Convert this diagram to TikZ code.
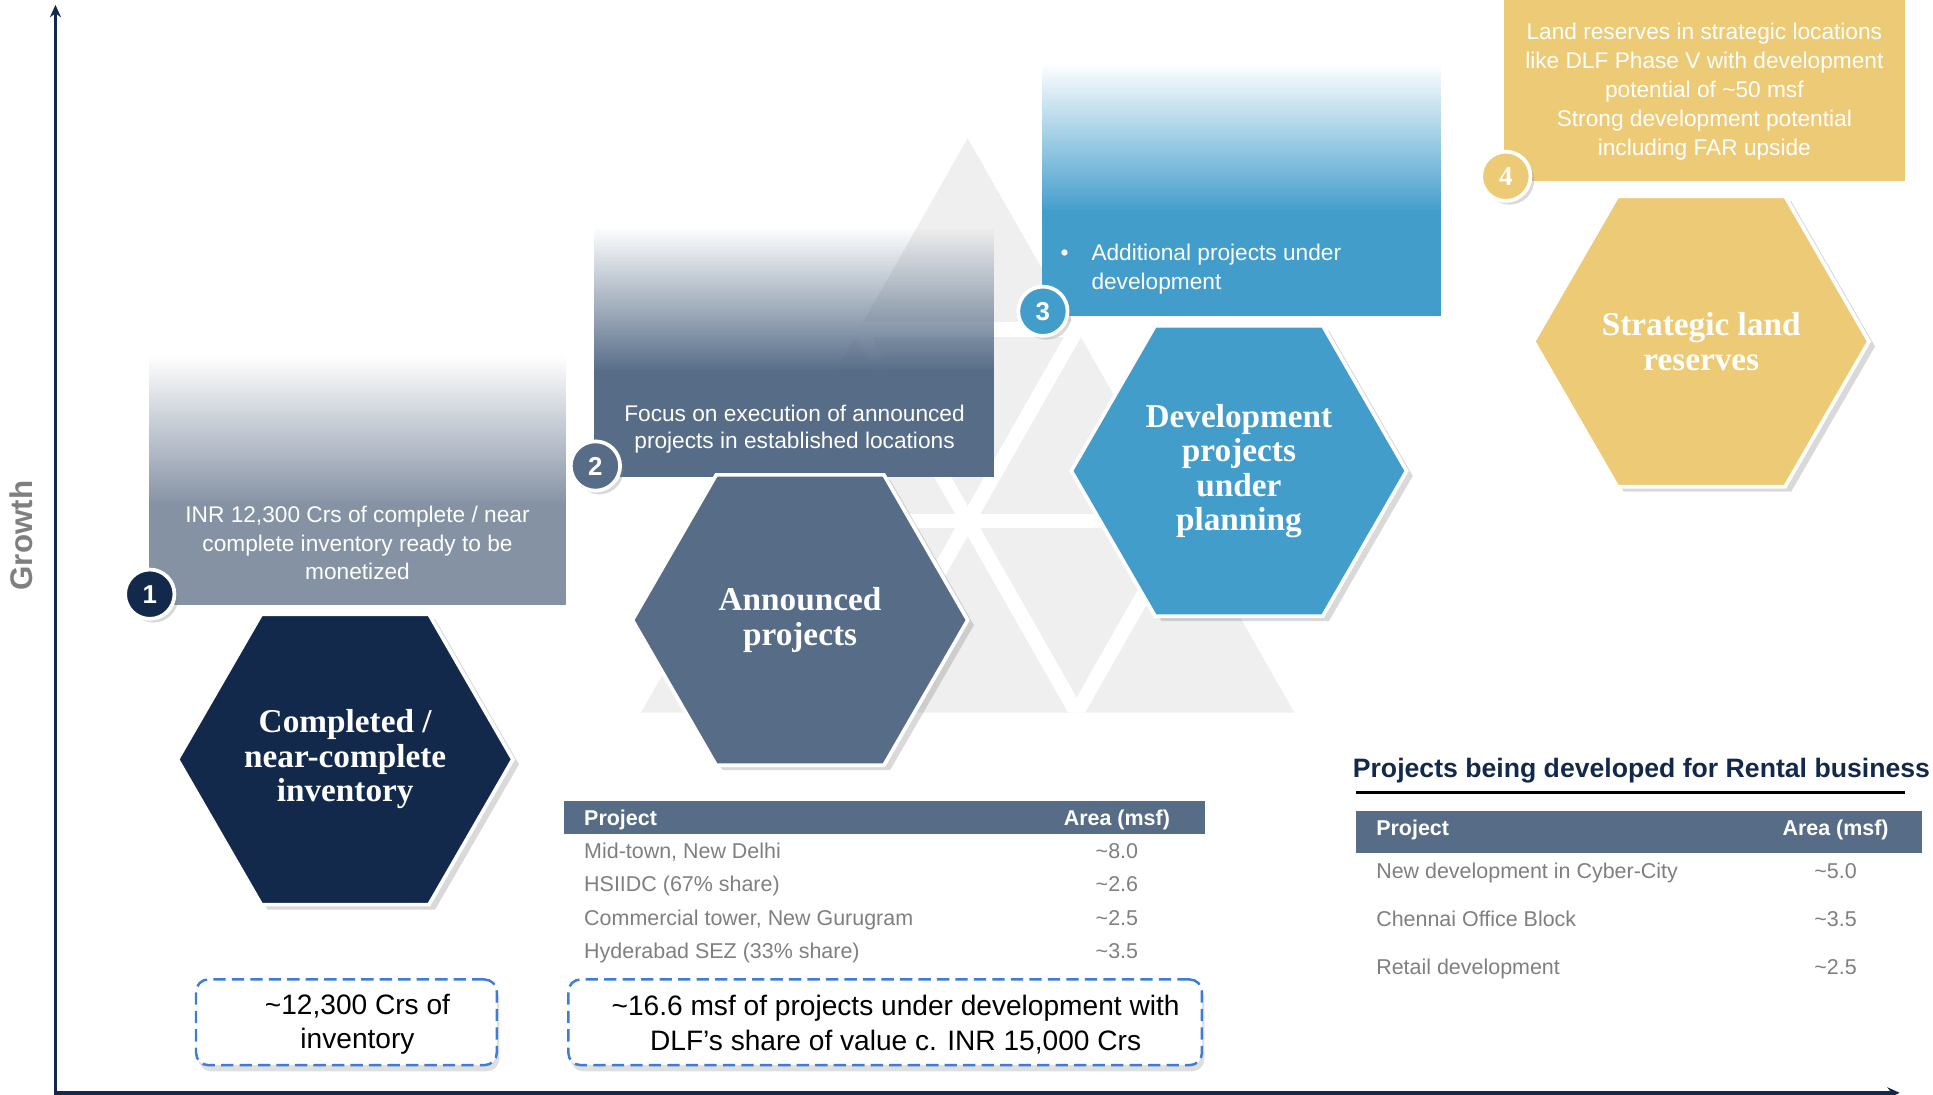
\documentclass[tikz,border=0pt]{standalone}
\usepackage{fontspec}
\setsansfont{Liberation Sans}
\newfontfamily\hexfont{Liberation Serif}
\usetikzlibrary{shapes.geometric,shadows,fadings,calc,arrows.meta}

\definecolor{navy}{HTML}{13294B}
\definecolor{slate}{HTML}{566C87}
\definecolor{steel}{HTML}{8592A4}
\definecolor{sky}{HTML}{439DCB}
\definecolor{gold}{HTML}{EDCB76}
\definecolor{dashblue}{HTML}{3C7DD9}
\definecolor{txtgray}{HTML}{7F7F7F}
\definecolor{logogray}{HTML}{EFEFEF}

\tikzfading[name=fadeup, top color=transparent!100, bottom color=transparent!0]

\begin{document}
\begin{tikzpicture}[
	  x=0.5pt, y=0.5pt,
	  hexa/.style={regular polygon, regular polygon sides=6, minimum size=136pt,
	    inner sep=0pt, draw=white, line width=1.5pt, text=white, align=center,
	    font=\hexfont\bfseries\fontsize{13.5}{14}\selectfont,
	    drop shadow={shadow xshift=2.5pt, shadow yshift=-2pt, opacity=0.3}},
	  numc/.style={circle, minimum size=20pt, inner sep=0pt, draw=white,
	    line width=1.5pt, text=white,
	    font=\sffamily\bfseries\fontsize{10.5}{12}\selectfont,
	    drop shadow={shadow xshift=1.5pt, shadow yshift=-1.5pt, opacity=0.3}},
	  btxt/.style={text=white, align=center, font=\sffamily\fontsize{9.2}{11.5}\selectfont},
	  callout/.style={draw=dashblue, dash pattern=on 5pt off 2.5pt, line width=1pt,
	    rounded corners=5pt, fill=white,
	    drop shadow={shadow xshift=1pt, shadow yshift=-2.5pt, opacity=0.25}},
	  ctxt/.style={align=center, font=\sffamily\fontsize{11.4}{14}\selectfont},
	  thead/.style={text=white, inner sep=0pt, text height=1.5ex, text depth=.25ex,
	    font=\sffamily\bfseries\fontsize{8.7}{10}\selectfont},
	  tcell/.style={text=txtgray, inner sep=0pt, text height=1.5ex, text depth=.25ex,
	    font=\sffamily\fontsize{8.7}{10}\selectfont},
	]
	\useasboundingbox (0,0) rectangle (1568,-888);

	% logo in the background
	\coordinate (la) at (785,-112);
	\coordinate (lb) at (520,-578);
	\coordinate (lc) at (1050,-578);
	\begin{scope}
	  \clip (la) -- (lb) -- (lc) -- cycle;
	  \fill [logogray] (la) -- (lb) -- (lc) -- cycle;
	  \draw [white, line width=6pt] ($(la)!1/3!(lb)$) -- ($(la)!1/3!(lc)$);
	  \draw [white, line width=6pt] ($(la)!2/3!(lb)$) -- ($(la)!2/3!(lc)$);
	  \draw [white, line width=6pt] ($(lb)!1/3!(lc)$) -- ($(la)!1/3!(lc)$);
	  \draw [white, line width=6pt] ($(lb)!2/3!(lc)$) -- ($(la)!2/3!(lc)$);
	  \draw [white, line width=6pt] ($(lb)!1/3!(lc)$) -- ($(la)!2/3!(lb)$);
	  \draw [white, line width=6pt] ($(lb)!2/3!(lc)$) -- ($(la)!1/3!(lb)$);
	\end{scope}

	% boxes above the hexagons
	\fill [steel, path fading=fadeup] (121,-288) rectangle (459,-410);
	\fill [steel] (121,-408) rectangle (459,-490.5);
	\fill [slate, path fading=fadeup] (482,-184) rectangle (806,-302);
	\fill [slate] (482,-300) rectangle (806,-387);
	\fill [sky, path fading=fadeup] (845,-51) rectangle (1169,-172);
	\fill [sky] (845,-170) rectangle (1169,-256);
	\fill [gold] (1220,0) rectangle (1545,-146.5);

	\node (t1) [btxt] at (290,-440.5) {INR 12,300 Crs of complete / near\\complete inventory ready to be\\monetized};
	\node (t2) [btxt, font=\sffamily\fontsize{9.2}{11}\selectfont] at (644.5,-348) {Focus on execution of announced\\projects in established locations};
	\node (t3) [btxt, align=left, anchor=west, inner sep=0pt] at (860,-218.2) {\makebox[12.5pt][l]{\textbullet}Additional projects under\\\hspace*{12.5pt}development};
	\node (t4) [btxt, font=\sffamily\fontsize{9.2}{11.7}\selectfont] at (1382.5,-74.2) {Land reserves in strategic locations\\like DLF Phase V with development\\potential of \textasciitilde 50 msf\\Strong development potential\\including FAR upside};

	% hexagons
	\node (h1) [hexa, fill=navy] at (280,-616) {Completed /\\near-complete\\inventory};
	\node (h2) [hexa, fill=slate] at (649,-503) {Announced\\projects};
	\node (h3) [hexa, fill=sky] at (1005,-382) {Development\\projects\\under\\planning};
	\node (h4) [hexa, fill=gold] at (1380,-277) {Strategic land\\reserves};

	\node (c1) [numc, fill=navy] at (121.5,-482) {1};
	\node (c2) [numc, fill=slate] at (483,-378) {2};
	\node (c3) [numc, fill=sky] at (846,-252.5) {3};
	\node (c4) [numc, fill=gold, font=\hexfont\bfseries\fontsize{11}{12}\selectfont] at (1221.5,-143) {4};

	% table of announced projects
	\fill [slate] (457.5,-650) rectangle (977.5,-676.5);
	\node (ph1) [thead, anchor=west] at (473.5,-664) {Project};
	\node (ah1) [thead] at (906,-664) {Area (msf)};
	\node (pa1) [tcell, anchor=west] at (473.5,-691) {Mid-town, New Delhi};
	\node (va1) [tcell] at (906,-691) {\textasciitilde 8.0};
	\node (pb1) [tcell, anchor=west] at (473.5,-718) {HSIIDC (67\% share)};
	\node (vb1) [tcell] at (906,-718) {\textasciitilde 2.6};
	\node (pc1) [tcell, anchor=west] at (473.5,-745) {Commercial tower, New Gurugram};
	\node (vc1) [tcell] at (906,-745) {\textasciitilde 2.5};
	\node (pd1) [tcell, anchor=west] at (473.5,-772) {Hyderabad SEZ (33\% share)};
	\node (vd1) [tcell] at (906,-772) {\textasciitilde 3.5};

	% table of rental projects
	\node (ttl) [anchor=west, inner sep=0pt, text=navy, font=\sffamily\bfseries\fontsize{10.8}{13}\selectfont] at (1097,-625) {Projects being developed for Rental business};
	\draw [line width=1.2pt] (1100,-643) -- (1545,-643);
	\fill [slate] (1100,-657.5) rectangle (1559,-692);
	\node (ph2) [thead, anchor=west] at (1116,-672.5) {Project};
	\node (ah2) [thead] at (1489,-672.5) {Area (msf)};
	\node (pa2) [tcell, anchor=west] at (1116,-707) {New development in Cyber-City};
	\node (va2) [tcell] at (1489,-707) {\textasciitilde 5.0};
	\node (pb2) [tcell, anchor=west] at (1116,-746) {Chennai Office Block};
	\node (vb2) [tcell] at (1489,-746) {\textasciitilde 3.5};
	\node (pc2) [tcell, anchor=west] at (1116,-785) {Retail development};
	\node (vc2) [tcell] at (1489,-785) {\textasciitilde 2.5};

	% dashed callouts
	\node (k1) [callout, minimum width=122pt, minimum height=34.75pt] at (281,-829.25) {};
	\node (k1t) [ctxt] at (290,-831) {\textasciitilde 12,300 Crs of\\inventory};
	\node (k2) [callout, minimum width=257pt, minimum height=34.75pt] at (718,-829.25) {};
	\node (k2t) [ctxt] at (726.5,-831) {\textasciitilde 16.6 msf of projects under development with\\DLF’s share of value c. INR 15,000 Crs};

	% axes
	\draw [navy, line width=1.5pt, {Stealth[length=5pt, width=4.5pt]}-{Stealth[length=5pt, width=4.5pt]}] (45,-4) -- (45,-886.5) -- (1541,-886.5);
	\node (gr) [rotate=90, text=txtgray, font=\sffamily\bfseries\fontsize{12.7}{14}\selectfont] at (17.5,-434.5) {Growth};
\end{tikzpicture}
\end{document}
